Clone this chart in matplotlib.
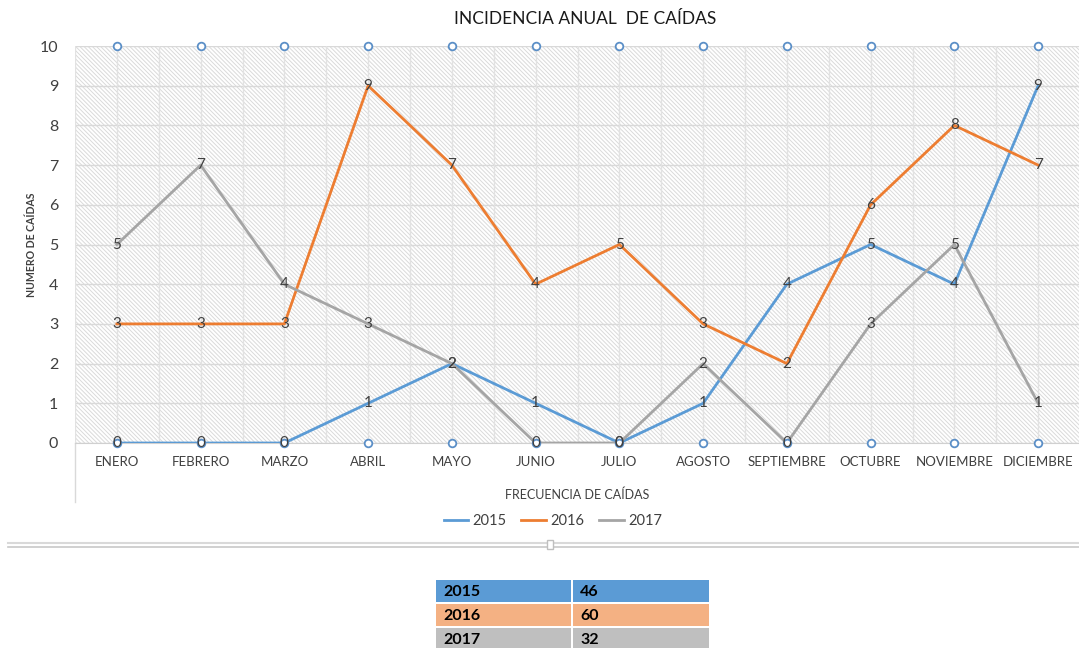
import matplotlib.pyplot as plt
from matplotlib.patches import Rectangle
import numpy as np

plt.rcParams['font.family'] = ['Lato', 'DejaVu Sans']
plt.rcParams['hatch.linewidth'] = 0.7

months = ['ENERO', 'FEBRERO', 'MARZO', 'ABRIL', 'MAYO', 'JUNIO', 'JULIO',
          'AGOSTO', 'SEPTIEMBRE', 'OCTUBRE', 'NOVIEMBRE', 'DICIEMBRE']
y2015 = [0, 0, 0, 1, 2, 1, 0, 1, 4, 5, 4, 9]
y2016 = [3, 3, 3, 9, 7, 4, 5, 3, 2, 6, 8, 7]
y2017 = [5, 7, 4, 3, 2, 0, 0, 2, 0, 3, 5, 1]
# hidden helper series (only markers visible)
top_marks = [10] * 12
bottom_marks = [0] * 12

table_years = ['2015', '2016', '2017']
table_totals = ['46', '60', '32']
table_colors = ['#5b9bd5', '#f4b183', '#bfbfbf']

series = [('2015', y2015, '#5b9bd5'), ('2016', y2016, '#ed7d31'), ('2017', y2017, '#a5a5a5')]

W, H = 1079, 648
fig = plt.figure(figsize=(W / 100, H / 100), dpi=100)

# main chart
ax = fig.add_axes([75 / W, 1 - 443 / H, (1080 - 75) / W, (443 - 46) / H])
x = np.arange(len(months))
ax.set_xlim(-0.5, 11.5)
ax.set_ylim(0, 10)

ax.add_patch(Rectangle((0, 0), 1, 1, transform=ax.transAxes, facecolor='white',
                       edgecolor='#dadada', hatch='\\' * 8, linewidth=0, zorder=0))
for v in range(0, 11):
    ax.axhline(v, color='#d9d9d9', lw=1, zorder=1)
for v in np.arange(-0.5, 12, 0.5):
    ax.axvline(v, color='#e2e2e2', lw=1, zorder=1)

for i, (name, vals, col) in enumerate(series):
    ax.plot(x, vals, color=col, lw=2, label=name, zorder=3 + i)

ax.plot(x, top_marks, ls='none', marker='o', ms=5.5, mfc='white', mec='#5b8fc7', mew=1.3, zorder=6, clip_on=False)
ax.plot(x, bottom_marks, ls='none', marker='o', ms=5.5, mfc='white', mec='#5b8fc7', mew=1.3, zorder=6, clip_on=False)

for name, vals, col in series:
    for xi, v in zip(x, vals):
        ax.text(xi, v, str(v), ha='center', va='center', fontsize=11, color='#404040', zorder=8)

ax.set_xticks(x)
ax.set_xticklabels(months, fontsize=9.5, color='#404040')
ax.set_yticks(range(0, 11))
ax.tick_params(axis='y', labelsize=11.5, colors='#404040', length=0, pad=12)
ax.tick_params(axis='x', length=0, pad=9)
for s in ['top', 'right', 'left']:
    ax.spines[s].set_visible(False)
ax.spines['bottom'].set_color('#d0d0d0')

ax.set_ylabel('NUMERO DE CAÍDAS', fontsize=7.6, fontweight='bold', color='#404040', labelpad=2)
ax.set_xlabel('FRECUENCIA DE CAÍDAS', fontsize=9, color='#404040', labelpad=15)
fig.text(585 / W, 1 - 19 / H, 'INCIDENCIA ANUAL  DE CAÍDAS', ha='center', va='center',
         fontsize=12.5, color='#1a1a1a')

leg = ax.legend(loc='center', bbox_to_anchor=(553 / W, 1 - 521 / H), bbox_transform=fig.transFigure,
                ncol=3, frameon=False, fontsize=10.5, handlelength=1.7, columnspacing=1.0,
                handletextpad=0.3)
for t in leg.get_texts():
    t.set_color('#404040')

# overlay in pixel coordinates for decorations and the summary table
ov = fig.add_axes([0, 0, 1, 1], zorder=-1)
ov.set_xlim(0, W)
ov.set_ylim(H, 0)
ov.axis('off')
ov.plot([75, 75], [443, 502], color='#d9d9d9', lw=1)
ov.plot([8, W], [543, 543], color='#d9d9d9', lw=1.5)
ov.plot([8, W], [547, 547], color='#c8c8c8', lw=1.2)
ov.add_patch(Rectangle((547, 540), 6, 9, facecolor='white', edgecolor='#bfbfbf', lw=1, zorder=3))

row_top = 580
for i in range(len(table_years)):
    y0 = row_top + i * 24
    ov.add_patch(Rectangle((436, y0), 135, 22, facecolor=table_colors[i], edgecolor='none'))
    ov.add_patch(Rectangle((573, y0), 136, 22, facecolor=table_colors[i], edgecolor='none'))
    ov.text(443, y0 + 12, table_years[i], fontsize=11.5, fontweight='bold', va='center', color='black')
    ov.text(580, y0 + 12, table_totals[i], fontsize=11.5, fontweight='bold', va='center', color='black')

fig.savefig('out.png', dpi=100)
